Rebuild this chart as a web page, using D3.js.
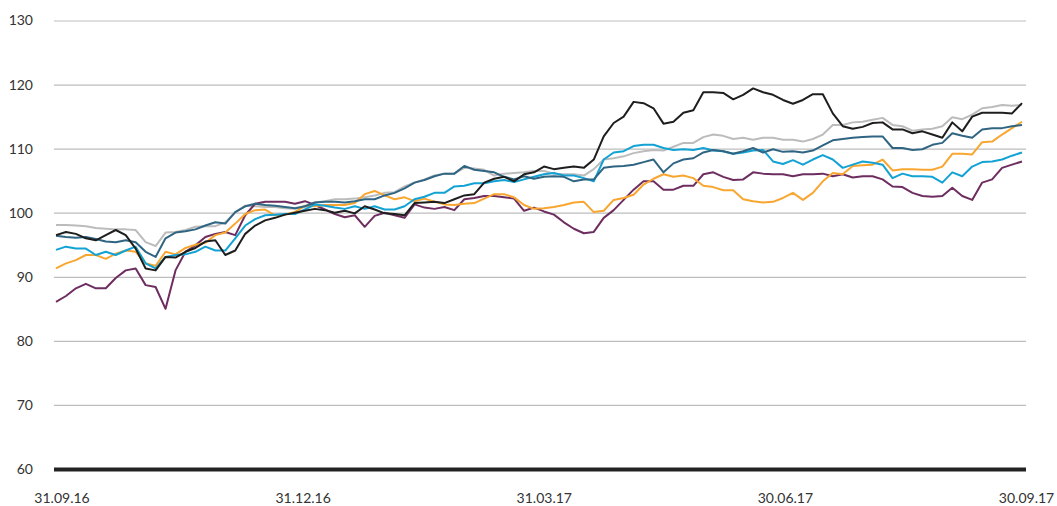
<!DOCTYPE html>
<html>
<head>
<meta charset="utf-8">
<script src="https://cdn.jsdelivr.net/npm/d3@7"></script>
<style>
  html, body { margin: 0; padding: 0; background: #fff; }
  svg { display: block; font-family: Lato, "Open Sans", sans-serif; }
</style>
</head>
<body>
<svg id="chart" width="1057" height="506"></svg>
<script>
// ---- Data (index-based sampling, 98 points from 30.09.16 to 30.09.17) ----
const xTickLabels = ["31.09.16", "31.12.16", "31.03.17", "30.06.17", "30.09.17"];
const yTickValues = [60, 70, 80, 90, 100, 110, 120, 130];

const seriesGray = [
  98.1, 98.1, 98.0, 97.9, 97.6, 97.5, 97.4, 97.4, 97.3, 95.4,
  94.8, 96.9, 97.0, 97.3, 97.8, 97.9, 97.9, 98.5, 100.1, 101.1,
  101.0, 100.9, 100.9, 100.7, 100.6, 100.9, 101.6, 101.8, 102.1, 102.1,
  102.2, 102.4, 102.7, 103.1, 103.2, 104.1, 104.7, 105.2, 105.8, 106.1,
  106.1, 107.0, 106.9, 106.7, 105.8, 106.1, 106.2, 106.3, 106.5, 106.5,
  106.1, 106.0, 106.0, 105.8, 106.8, 108.3, 108.5, 108.8, 109.3, 109.6,
  109.8, 109.7, 110.3, 110.9, 110.9, 111.8, 112.2, 112.0, 111.5, 111.7,
  111.4, 111.7, 111.7, 111.4, 111.4, 111.1, 111.5, 112.2, 113.7, 113.7,
  114.1, 114.2, 114.5, 114.8, 113.7, 113.5, 112.8, 113.0, 113.1, 113.5,
  114.9, 114.6, 115.3, 116.3, 116.5, 116.8, 116.7, 116.8
];
const seriesTeal = [
  96.4, 96.2, 96.1, 96.2, 95.9, 95.5, 95.4, 95.7, 95.4, 93.9,
  93.1, 96.0, 96.9, 97.1, 97.4, 98.0, 98.5, 98.3, 100.1, 101.0,
  101.4, 101.2, 101.1, 100.9, 100.7, 101.0, 101.6, 101.7, 101.7, 101.6,
  101.8, 102.1, 102.1, 102.7, 103.1, 103.8, 104.7, 105.1, 105.7, 106.1,
  106.1, 107.3, 106.7, 106.5, 106.3, 105.6, 105.2, 105.7, 105.3, 105.6,
  105.7, 105.6, 104.9, 105.2, 105.2, 107.0, 107.2, 107.3, 107.5, 107.9,
  108.3, 106.3, 107.7, 108.3, 108.5, 109.4, 109.8, 109.6, 109.2, 109.6,
  110.1, 109.4, 109.9, 109.5, 109.6, 109.4, 109.7, 110.5, 111.3, 111.5,
  111.7, 111.8, 111.9, 111.9, 110.1, 110.1, 109.8, 109.9, 110.6, 110.9,
  112.4, 112.0, 111.7, 113.0, 113.2, 113.2, 113.5, 113.7
];
const seriesBlack = [
  96.5, 97.0, 96.7, 96.0, 95.7, 96.5, 97.3, 96.5, 94.4, 91.3,
  91.0, 93.1, 93.0, 93.9, 94.5, 95.5, 95.7, 93.4, 94.1, 96.7,
  98.0, 98.8, 99.2, 99.7, 100.0, 100.3, 100.6, 100.4, 100.0, 100.3,
  99.9, 101.0, 100.5, 99.9, 99.8, 99.6, 101.5, 101.6, 101.7, 101.5,
  102.1, 102.7, 102.9, 104.7, 105.3, 105.6, 104.9, 106.0, 106.3, 107.2,
  106.8, 107.0, 107.2, 107.0, 108.3, 111.9, 114.0, 115.0, 117.3, 117.1,
  116.3, 113.9, 114.2, 115.6, 116.0, 118.8, 118.8, 118.7, 117.7, 118.4,
  119.4, 118.8, 118.4, 117.6, 117.0, 117.6, 118.5, 118.5, 115.5, 113.5,
  113.1, 113.4, 114.0, 114.1, 113.0, 113.0, 112.4, 112.7, 112.2, 111.7,
  114.1, 112.7, 115.0, 115.6, 115.6, 115.6, 115.5, 117.1
];
const seriesCyan = [
  94.2, 94.7, 94.4, 94.4, 93.4, 93.9, 93.4, 94.1, 94.7, 92.1,
  91.3, 93.1, 93.4, 93.5, 93.9, 94.7, 94.1, 94.1, 96.0, 98.0,
  99.0, 99.6, 99.7, 99.8, 99.8, 100.5, 101.3, 101.1, 100.8, 100.6,
  101.0, 100.6, 101.0, 100.5, 100.5, 101.0, 102.1, 102.5, 103.1, 103.1,
  104.1, 104.2, 104.6, 104.6, 104.9, 105.1, 104.8, 105.2, 105.6, 106.0,
  106.2, 105.8, 105.8, 105.4, 104.9, 108.3, 109.4, 109.6, 110.4, 110.6,
  110.6, 110.1, 109.8, 109.9, 109.8, 110.1, 109.7, 109.6, 109.2, 109.4,
  109.7, 109.8, 108.0, 107.6, 108.2, 107.5, 108.3, 109.0, 108.3, 107.0,
  107.5, 108.0, 107.8, 107.5, 105.4, 106.1, 105.7, 105.7, 105.6, 104.7,
  106.3, 105.7, 107.2, 107.9, 108.0, 108.3, 108.9, 109.4
];
const seriesOrange = [
  91.3, 92.1, 92.6, 93.4, 93.4, 92.8, 93.6, 94.1, 93.9, 92.1,
  91.7, 93.9, 93.5, 94.5, 95.0, 95.3, 96.5, 96.9, 98.3, 99.8,
  100.4, 100.5, 99.6, 99.7, 100.1, 101.1, 101.0, 101.2, 101.2, 101.2,
  101.5, 102.9, 103.4, 102.7, 102.1, 102.4, 101.8, 102.2, 101.7, 101.3,
  101.2, 101.4, 101.5, 102.2, 102.9, 102.9, 102.4, 101.2, 100.6, 100.7,
  100.9, 101.2, 101.6, 101.7, 100.1, 100.3, 102.0, 102.3, 102.8, 104.4,
  105.3, 106.0, 105.6, 105.8, 105.4, 104.2, 104.0, 103.5, 103.5, 102.1,
  101.8, 101.6, 101.7, 102.3, 103.1, 102.0, 103.1, 104.9, 106.2, 106.0,
  107.3, 107.4, 107.5, 108.3, 106.6, 106.8, 106.8, 106.7, 106.7, 107.2,
  109.2, 109.2, 109.1, 111.0, 111.1, 112.2, 113.2, 114.2
];
const seriesPurple = [
  86.1, 87.0, 88.2, 88.9, 88.2, 88.2, 89.8, 91.0, 91.3, 88.7,
  88.4, 85.0, 91.0, 93.9, 94.9, 96.2, 96.7, 97.0, 96.5, 99.6,
  101.4, 101.7, 101.7, 101.7, 101.4, 101.8, 101.2, 100.5, 99.8, 99.3,
  99.6, 97.8, 99.5, 100.0, 99.6, 99.2, 101.3, 100.8, 100.6, 100.9,
  100.4, 102.1, 102.3, 102.6, 102.6, 102.4, 102.2, 100.3, 100.8, 100.2,
  99.7, 98.5, 97.5, 96.8, 97.0, 99.2, 100.4, 102.0, 103.6, 104.9,
  104.9, 103.6, 103.6, 104.2, 104.2, 106.0, 106.3, 105.6, 105.1, 105.2,
  106.3, 106.1, 106.0, 106.0, 105.7, 106.0, 106.0, 106.1, 105.7, 106.0,
  105.5, 105.7, 105.7, 105.2, 104.1, 104.0, 103.1, 102.6, 102.5, 102.6,
  103.9, 102.6, 102.0, 104.7, 105.2, 107.0, 107.5, 108.0
];

// drawing order (bottom to top) and colours
const seriesList = [
  { name: "gray",   values: seriesGray,   color: "#bcbcbc" },
  { name: "purple", values: seriesPurple, color: "#6e2d5f" },
  { name: "orange", values: seriesOrange, color: "#f9a630" },
  { name: "cyan",   values: seriesCyan,   color: "#12a2d4" },
  { name: "teal",   values: seriesTeal,   color: "#2f6582" },
  { name: "black",  values: seriesBlack,  color: "#1e1e1e" }
];

// ---- Layout ----
const svg = d3.select("#chart");
const gridLeft = 54, gridRight = 1026;
const y = d3.scaleLinear().domain([60, 130]).range([469, 20.5]);
const n = seriesGray.length;
const x = d3.scaleLinear().domain([0, n - 1]).range([56, 1022]);
const xLab = d3.scalePoint().domain(xTickLabels).range([61.5, 1026]);

// Y axis with gridlines
const yAxis = svg.append("g")
  .attr("transform", `translate(${gridLeft},0)`)
  .call(d3.axisLeft(y).tickValues(yTickValues).tickSize(-(gridRight - gridLeft)).tickPadding(21).tickFormat(d3.format("d")));
yAxis.select(".domain").remove();
yAxis.selectAll(".tick line")
  .attr("stroke", d => d === 60 ? "#222" : "#bdbdbd")
  .attr("stroke-width", d => d === 60 ? 4 : 1.2);
yAxis.selectAll(".tick text")
  .attr("fill", "#333")
  .style("font-size", "14px")
  .style("font-family", "Lato, sans-serif");

// Lines
const line = d3.line()
  .x((d, i) => x(i))
  .y(d => y(d));

svg.append("g")
  .selectAll("path")
  .data(seriesList)
  .join("path")
  .attr("fill", "none")
  .attr("stroke", d => d.color)
  .attr("stroke-width", 2)
  .attr("stroke-linejoin", "round")
  .attr("d", d => line(d.values));

// X axis labels
const xAxis = svg.append("g")
  .attr("transform", "translate(0,469)")
  .call(d3.axisBottom(xLab).tickSize(0).tickPadding(24.5));
xAxis.select(".domain").remove();
xAxis.selectAll(".tick text")
  .attr("fill", "#333")
  .style("font-size", "14px")
  .style("font-family", "Lato, sans-serif");
</script>
</body>
</html>
